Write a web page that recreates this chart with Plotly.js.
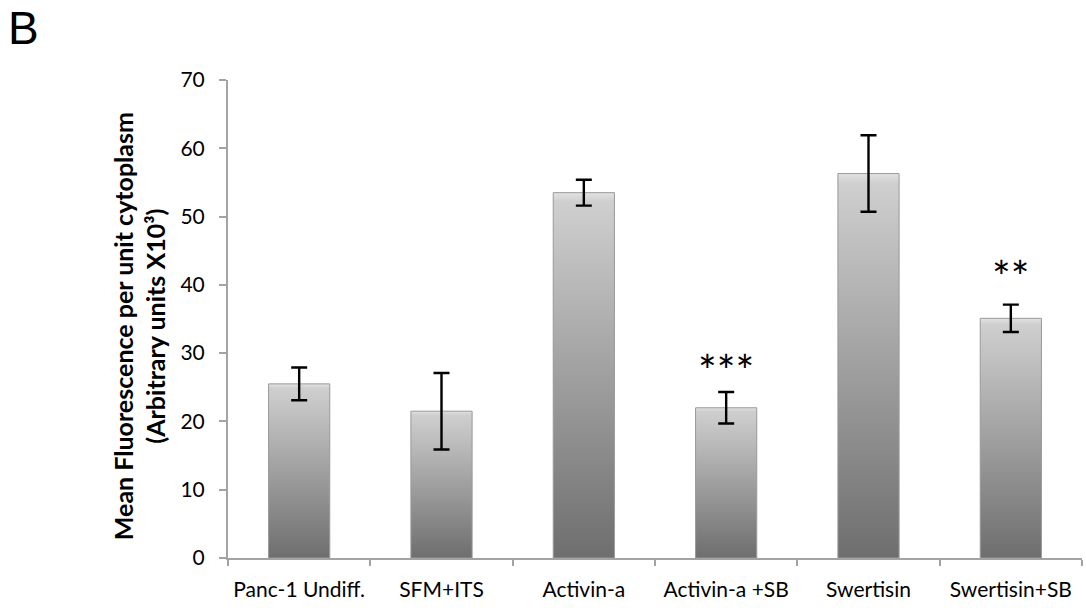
<!DOCTYPE html>
<html>
<head>
<meta charset="utf-8">
<script src="https://cdn.plot.ly/plotly-3.0.1.min.js"></script>
<style>
  html, body { margin: 0; padding: 0; background: #fff; }
  #chart { width: 1086px; height: 614px; }
</style>
</head>
<body>
<div id="chart"></div>
<script>
// ---- data ----
const categories = ["Panc-1 Undiff.", "SFM+ITS", "Activin-a", "Activin-a +SB", "Swertisin", "Swertisin+SB"];
const meanValues = [25.5, 21.5, 53.5, 22.0, 56.3, 35.1];
const errorValues = [2.4, 5.6, 1.9, 2.3, 5.6, 2.0];
const significanceLabels = ["", "", "", "***", "", "**"];
const significanceY = [0, 0, 0, 29.2, 0, 42.9];
const yTickValues = [0, 10, 20, 30, 40, 50, 60, 70];
const yTitleLines = ["Mean Fluorescence per unit cytoplasm", "(Arbitrary units X10³)"];

const axisGray = "#a3a3a3";
const tickFont = { family: "Lato, 'Open Sans', sans-serif", size: 21, color: "#000" };

const barTrace = {
  type: "bar",
  x: categories,
  y: meanValues,
  width: 0.43,
  marker: { color: "#a8a8a8", line: { color: "#999999", width: 1 } },
  error_y: { type: "data", array: errorValues, visible: true, color: "#000", thickness: 2.4, width: 8 },
  hoverinfo: "x+y"
};

const annotations = [];
categories.forEach((c, i) => {
  if (significanceLabels[i]) {
    annotations.push({
      x: c, y: significanceY[i], xref: "x", yref: "y",
      text: significanceLabels[i], showarrow: false,
      font: { family: "Lato, 'Open Sans', sans-serif", size: 44, color: "#000" },
      yanchor: "middle", xanchor: "center", yshift: -11
    });
  }
});
// panel letter
annotations.push({
  xref: "paper", yref: "paper", x: 0, y: 1, xanchor: "left", yanchor: "top",
  text: "B", showarrow: false, xshift: -221, yshift: 79, borderpad: 0,
  font: { family: "'Liberation Sans', Arial, sans-serif", size: 46, color: "#000" }
});
// y-axis title (rotated)
annotations.push({
  xref: "paper", yref: "paper", x: 0, y: 0.485, xanchor: "center", yanchor: "middle",
  xshift: -89, textangle: -90, showarrow: false,
  text: yTitleLines.map(t => "<b>" + t + "</b>").join("<br>"),
  font: { family: "Lato, 'Open Sans', sans-serif", size: 25, color: "#000" }
});

const layout = {
  width: 1086, height: 614,
  margin: { l: 228, r: 4, t: 80, b: 56 },
  paper_bgcolor: "#fff", plot_bgcolor: "#fff",
  showlegend: false,
  xaxis: {
    type: "category",
    showline: true, linecolor: axisGray, linewidth: 2,
    ticks: "outside", tickson: "boundaries", ticklen: 6, tickcolor: axisGray, tickwidth: 2,
    showgrid: false, zeroline: false,
    tickfont: tickFont, ticklabelstandoff: 12
  },
  yaxis: {
    range: [0, 70], tickvals: yTickValues, ticktext: yTickValues.map(String),
    showline: true, linecolor: axisGray, linewidth: 2,
    ticks: "outside", ticklen: 7, tickcolor: axisGray, tickwidth: 2,
    showgrid: false, zeroline: false,
    tickfont: tickFont, ticklabelstandoff: 10
  },
  annotations: annotations
};

Plotly.newPlot("chart", [barTrace], layout, { displayModeBar: false, staticPlot: true }).then(gd => {
  // vertical grey gradient on the bars (styling only)
  const svg = gd.querySelector("svg.main-svg");
  const ns = "http://www.w3.org/2000/svg";
  let defs = svg.querySelector("defs");
  if (!defs) { defs = document.createElementNS(ns, "defs"); svg.insertBefore(defs, svg.firstChild); }
  const grad = document.createElementNS(ns, "linearGradient");
  grad.setAttribute("id", "barGrad");
  grad.setAttribute("x1", "0"); grad.setAttribute("y1", "0");
  grad.setAttribute("x2", "0"); grad.setAttribute("y2", "1");
  [["0", "#e2e2e2"], ["0.025", "#cfcfcf"], ["1", "#6e6e6e"]].forEach(([o, c]) => {
    const s = document.createElementNS(ns, "stop");
    s.setAttribute("offset", o); s.setAttribute("stop-color", c);
    grad.appendChild(s);
  });
  defs.appendChild(grad);
  gd.querySelectorAll(".bars .point path").forEach(p => { p.style.fill = "url(#barGrad)"; });
});
</script>
</body>
</html>
